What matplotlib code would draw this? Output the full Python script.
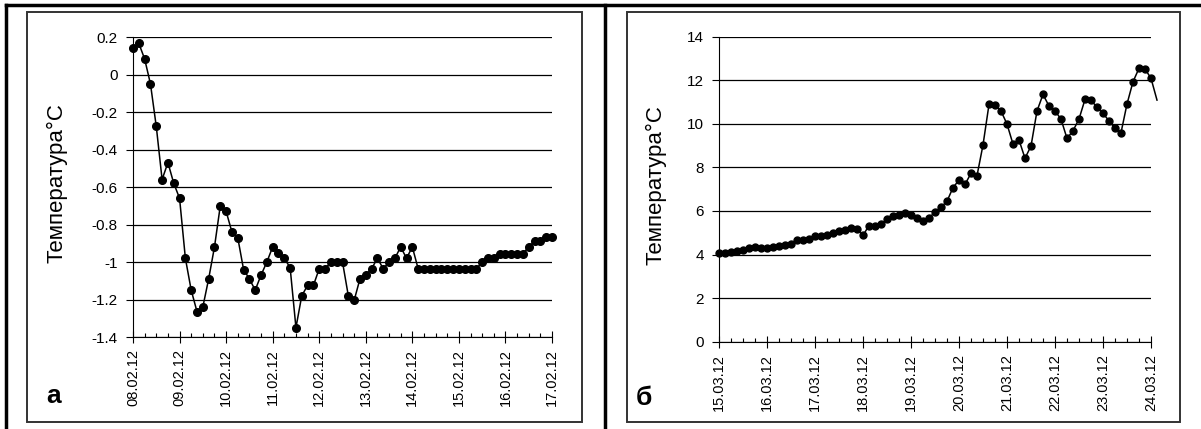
import numpy as np
import matplotlib.pyplot as plt
from matplotlib.lines import Line2D
from matplotlib.patches import Rectangle
from matplotlib.ticker import FuncFormatter, MultipleLocator

plt.rcParams['font.family'] = ['Liberation Sans', 'DejaVu Sans']
plt.rcParams['axes.unicode_minus'] = False

# измерения через 3 часа
temp_a = [0.14, 0.166, 0.083, -0.05, -0.277, -0.56, -0.47, -0.58, -0.66, -0.98,
          -1.15, -1.265, -1.24, -1.09, -0.92, -0.70, -0.73, -0.84, -0.87, -1.04,
          -1.09, -1.15, -1.07, -1.00, -0.92, -0.95, -0.98, -1.03, -1.35, -1.18,
          -1.125, -1.125, -1.036, -1.036, -1.0, -1.0, -1.0, -1.18, -1.205, -1.09,
          -1.07, -1.036, -0.98, -1.036, -1.0, -0.98, -0.92, -0.98, -0.92,
          -1.036, -1.036, -1.036, -1.036, -1.036, -1.036, -1.036, -1.036, -1.036,
          -1.036, -1.036, -1.0, -0.98, -0.98, -0.955, -0.955, -0.955, -0.955,
          -0.955, -0.92, -0.89, -0.89, -0.865, -0.865]
temp_b = [4.08, 4.08, 4.12, 4.15, 4.22, 4.30, 4.35, 4.28, 4.32, 4.35,
          4.38, 4.45, 4.50, 4.65, 4.68, 4.72, 4.83, 4.85, 4.90, 5.00,
          5.08, 5.15, 5.20, 5.18, 4.88, 5.33, 5.30, 5.38, 5.62, 5.75,
          5.81, 5.92, 5.81, 5.66, 5.55, 5.66, 5.97, 6.17, 6.45, 7.07,
          7.42, 7.22, 7.73, 7.62, 9.03, 10.89, 10.86, 10.59, 9.99, 9.07,
          9.26, 8.42, 8.98, 10.59, 11.35, 10.82, 10.59, 10.22, 9.33, 9.68,
          10.22, 11.12, 11.09, 10.76, 10.48, 10.14, 9.79, 9.59, 10.91, 11.93,
          12.55, 12.52, 12.09, 11.09]
dates_a = ['08.02.12', '09.02.12', '10.02.12', '11.02.12', '12.02.12',
           '13.02.12', '14.02.12', '15.02.12', '16.02.12', '17.02.12']
dates_b = ['15.03.12', '16.03.12', '17.03.12', '18.03.12', '19.03.12',
           '20.03.12', '21.03.12', '22.03.12', '23.03.12', '24.03.12']

W, H = 1201, 429
fig = plt.figure(figsize=(W / 100, H / 100), dpi=100)


def box(x0, y0, x1, y1):
    return [x0 / W, 1 - y1 / H, (x1 - x0) / W, (y1 - y0) / H]


def fmt(v, p):
    if abs(v) < 1e-9:
        return '0'
    return '%g' % round(v, 1)


def draw(ax, t, dates, ylo, yhi, ystep, ms):
    xmax = 8 * (len(dates) - 1)
    marks = [i for i in range(len(t)) if i <= xmax]
    ax.plot(range(len(t)), t, '-o', color='black', lw=1.1, ms=ms,
            markevery=marks, clip_on=False, zorder=3)
    ax.set_xlim(0, xmax)
    ax.set_ylim(ylo, yhi)
    ax.set_xticks(range(0, xmax + 1, 8))
    ax.set_xticklabels(dates, rotation=90, fontsize=10.5)
    ax.xaxis.set_minor_locator(MultipleLocator(2))
    ax.yaxis.set_major_locator(MultipleLocator(ystep))
    ax.yaxis.set_major_formatter(FuncFormatter(fmt))
    ax.yaxis.grid(True, color='black', lw=0.9)
    ax.set_axisbelow(True)
    for s in ['top', 'right']:
        ax.spines[s].set_visible(False)
    ax.tick_params(axis='y', direction='out', length=5, width=0.8,
                   labelsize=11, pad=6)
    ax.tick_params(axis='x', which='major', direction='inout', length=8,
                   width=0.8, pad=5)
    ax.tick_params(axis='x', which='minor', direction='in', length=3,
                   width=0.8)


ax_a = fig.add_axes(box(133, 37, 552, 337))
ax_b = fig.add_axes(box(719, 36.7, 1151, 341.7))
draw(ax_a, temp_a, dates_a, -1.4, 0.2, 0.2, 5.5)
draw(ax_b, temp_b, dates_b, 0, 14, 2, 5.0)

fig.text(57 / W, 1 - 183 / H, 'Температура°C', rotation=90, fontsize=16,
         ha='center', va='center')
fig.text(656 / W, 1 - 185 / H, 'Температура°C', rotation=90, fontsize=16,
         ha='center', va='center')
fig.text(54 / W, 1 - 403 / H, 'а', fontsize=19, fontweight='bold',
         ha='center', va='baseline')
fig.text(644 / W, 1 - 405 / H, 'б', fontsize=19, fontweight='bold',
         ha='center', va='baseline')

# рамки
for x0, x1 in [(27, 582), (627, 1180)]:
    fig.add_artist(Rectangle((x0 / W, 1 - 422 / H), (x1 - x0) / W, 410 / H,
                             transform=fig.transFigure, fill=False,
                             ec='#333333', lw=1.4))
fig.add_artist(Line2D([6 / W, 1], [1 - 5 / H] * 2, color='black', lw=2.5))
fig.add_artist(Line2D([6 / W] * 2, [0, 1 - 5 / H], color='black', lw=2.5))
fig.add_artist(Line2D([605 / W] * 2, [0, 1 - 5 / H], color='black', lw=2.5))

fig.savefig('out.png', dpi=100)
